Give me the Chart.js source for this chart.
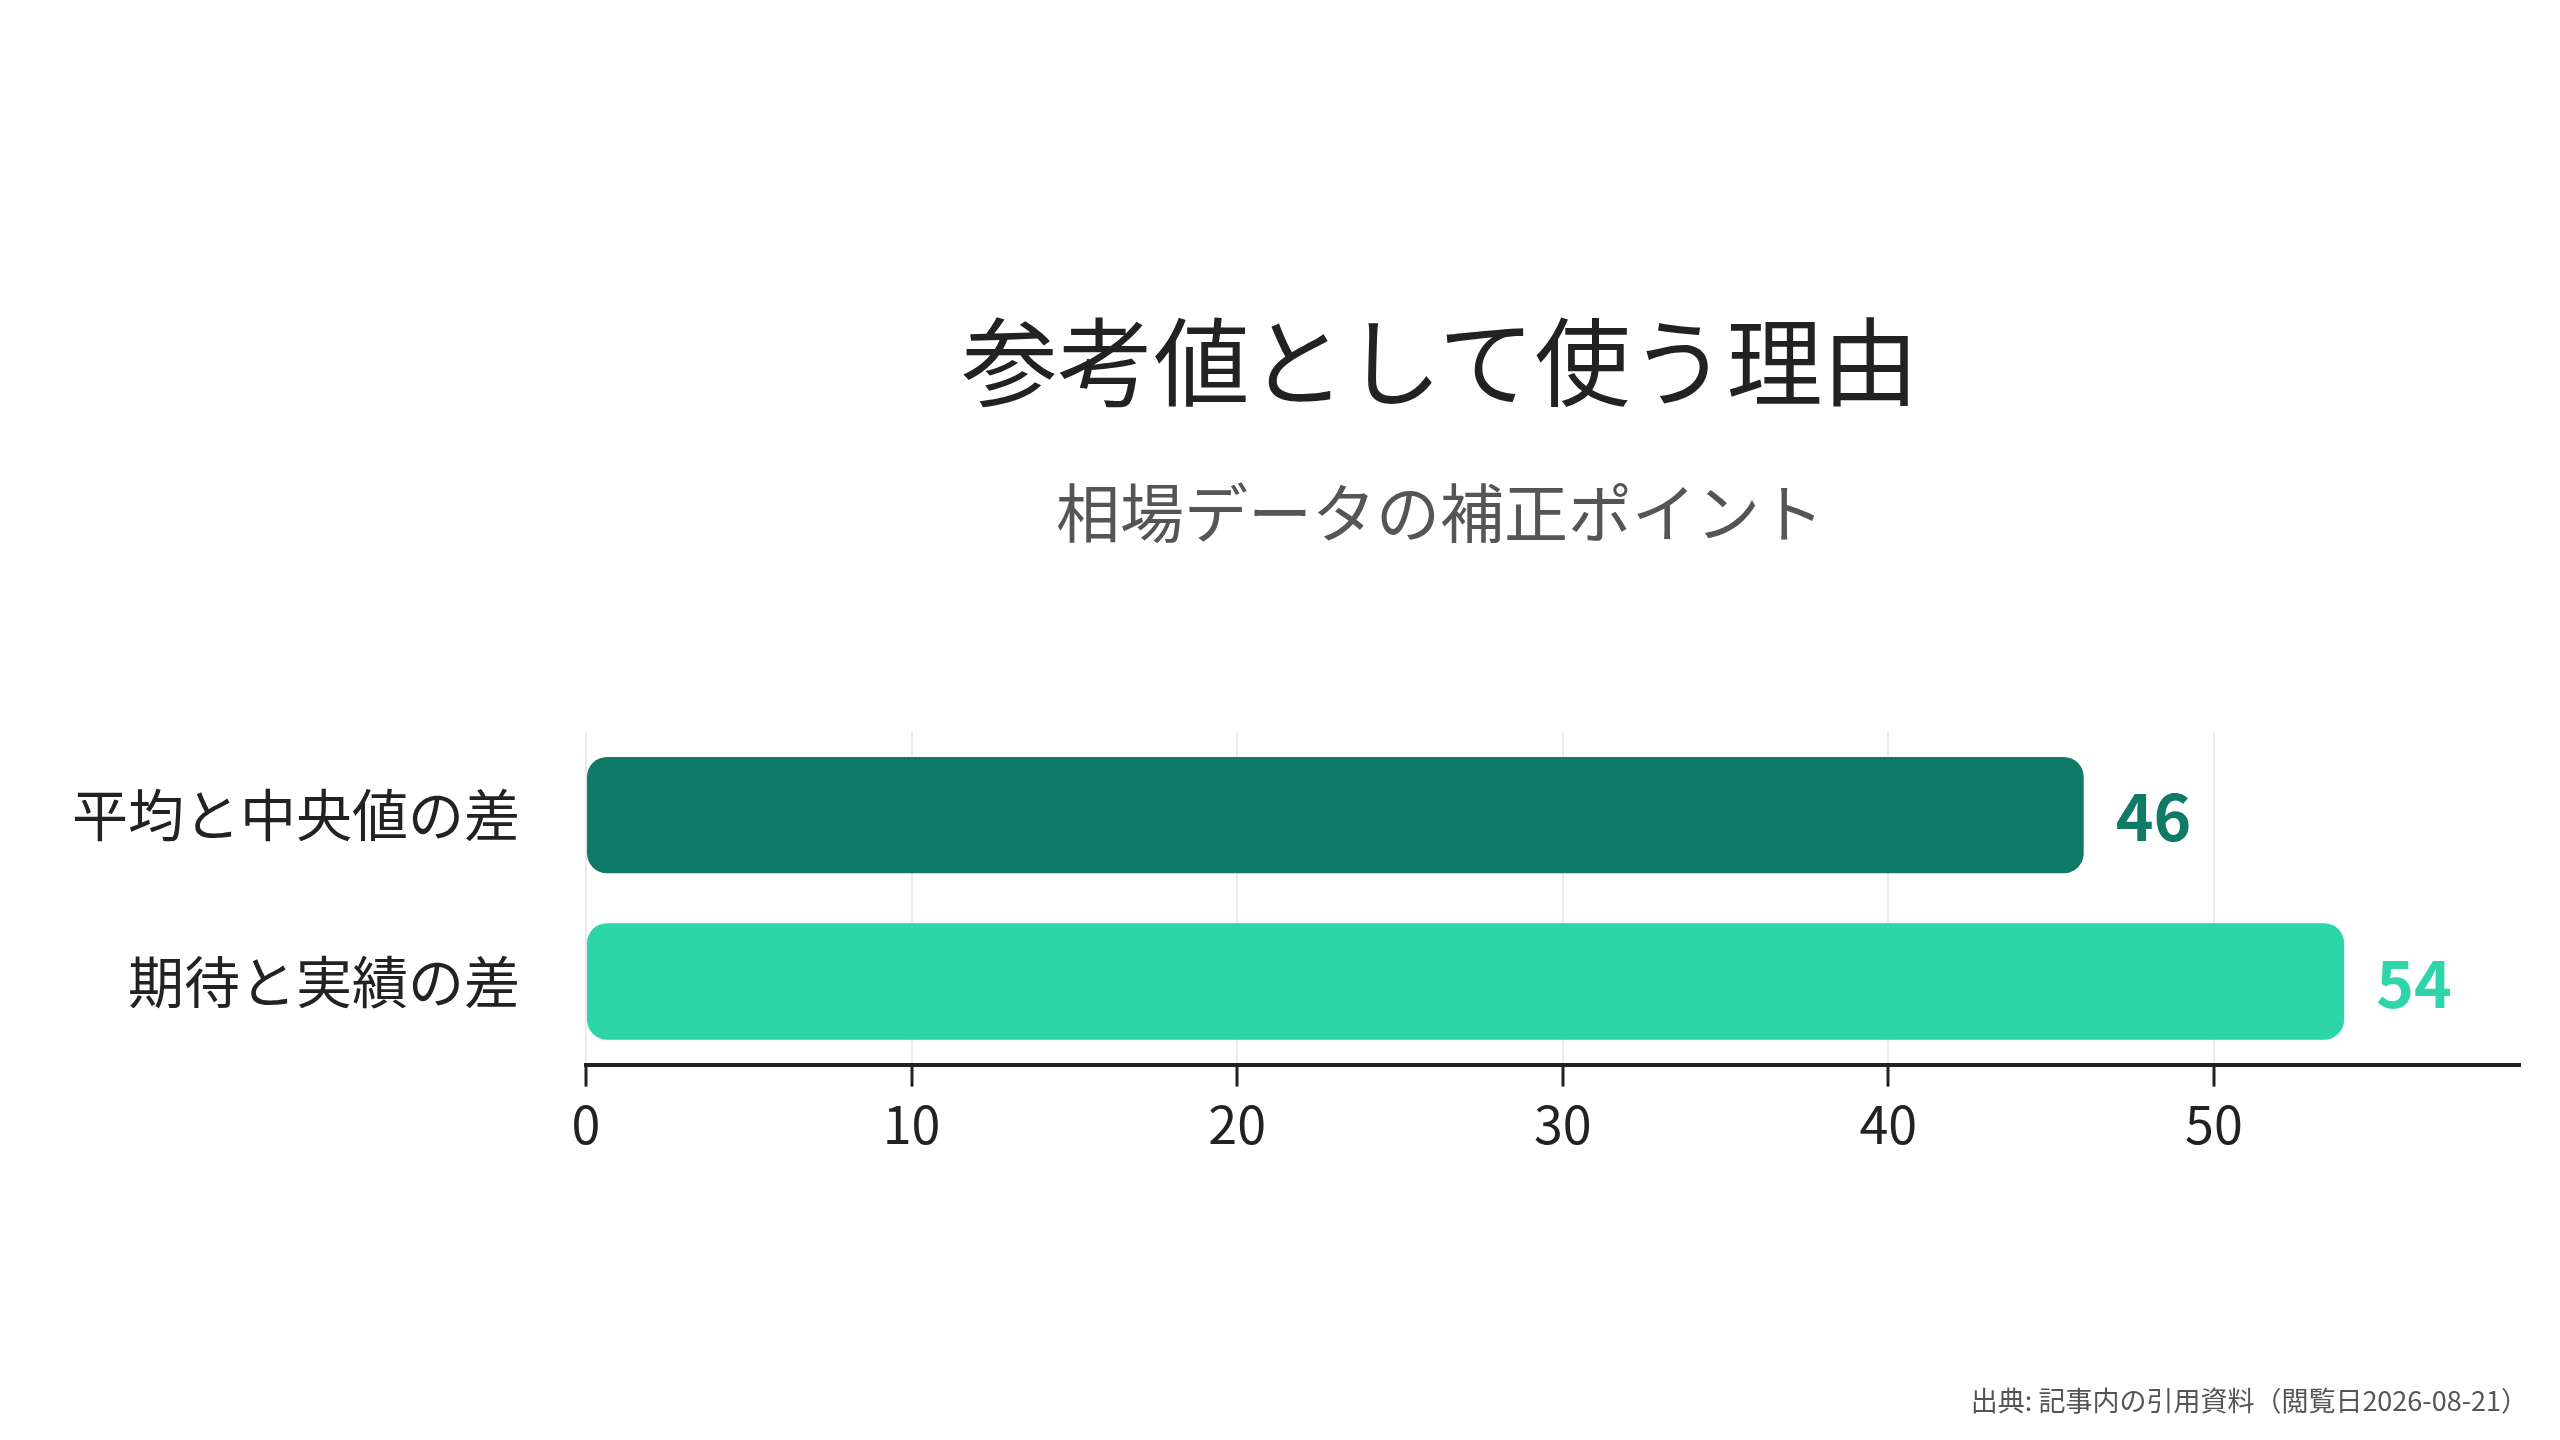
<!DOCTYPE html>
<html lang="ja">
<head>
<meta charset="utf-8">
<title>参考値として使う理由</title>
<script src="https://cdn.jsdelivr.net/npm/chart.js@4.4.1/dist/chart.umd.min.js"></script>
<style>
  html, body { margin:0; padding:0; background:#fff; }
  body { width:2560px; height:1440px; position:relative; overflow:hidden;
         font-family:"Noto Sans CJK JP","Noto Sans",sans-serif; }
  #chartBox { position:absolute; left:0; top:0; width:2560px; height:1440px; }
  .title { position:absolute; left:1440px; top:357px; transform:translate(-50%,-50%);
           font-size:96px; color:#222; white-space:nowrap; line-height:1.2; }
  .subtitle { position:absolute; left:1440px; top:509px; transform:translate(-50%,-50%);
              font-size:64px; color:#555; white-space:nowrap; line-height:1.2; }
  .source { position:absolute; right:32px; top:1400px; transform:translateY(-50%);
            font-size:27px; color:#555; white-space:nowrap; line-height:1.2; }
</style>
</head>
<body>
<div id="chartBox"><canvas id="barChart"></canvas></div>
<div class="title">参考値として使う理由</div>
<div class="subtitle">相場データの補正ポイント</div>
<div class="source">出典: 記事内の引用資料（閲覧日2026-08-21）</div>
<script>
// Data
const categories = ['平均と中央値の差', '期待と実績の差'];
const values = [46, 54];
const barColors = ['#0F7A66', '#2ED5A8'];
const tickValues = [0, 10, 20, 30, 40, 50];

const FONT = '"Noto Sans CJK JP", "Noto Sans", sans-serif';

// value labels at the end of each bar
const valueLabels = {
    id: 'valueLabels',
    afterDatasetsDraw(chart) {
        const ctx = chart.ctx;
        const meta = chart.getDatasetMeta(0);
        ctx.save();
        ctx.font = `bold 64px ${FONT}`;
        ctx.textAlign = 'left';
        ctx.textBaseline = 'middle';
        meta.data.forEach((bar, i) => {
            ctx.fillStyle = barColors[i];
            ctx.fillText(String(values[i]), bar.x + 32, bar.y + 2);
        });
        ctx.restore();
    }
};

const ctx = document.getElementById('barChart').getContext('2d');
new Chart(ctx, {
    type: 'bar',
    data: {
        labels: categories,
        datasets: [{
            data: values,
            backgroundColor: barColors,
            borderWidth: 0,
            borderRadius: 20,
            borderSkipped: false,
            barPercentage: 0.7,
            categoryPercentage: 1
        }]
    },
    options: {
        indexAxis: 'y',
        responsive: true,
        maintainAspectRatio: false,
        devicePixelRatio: 1,
        animation: false,
        layout: { padding: { top: 732, bottom: 279, left: 6, right: 40 } },
        plugins: {
            legend: { display: false },
            tooltip: { enabled: false }
        },
        scales: {
            x: {
                min: 0,
                max: Math.max(...values) * 1.1,
                afterBuildTicks: (scale) => { scale.ticks = tickValues.map(v => ({ value: v })); },
                ticks: { color: '#222', font: { family: FONT, size: 52 }, padding: 6 },
                grid: { color: '#ebebeb', lineWidth: 2, tickColor: '#222', tickWidth: 3, tickLength: 22 },
                border: { display: true, color: '#222', width: 4 }
            },
            y: {
                ticks: { color: '#222', font: { family: FONT, size: 56 }, padding: 66 },
                grid: { display: false, drawTicks: false },
                border: { display: false }
            }
        }
    },
    plugins: [valueLabels]
});
</script>
</body>
</html>
